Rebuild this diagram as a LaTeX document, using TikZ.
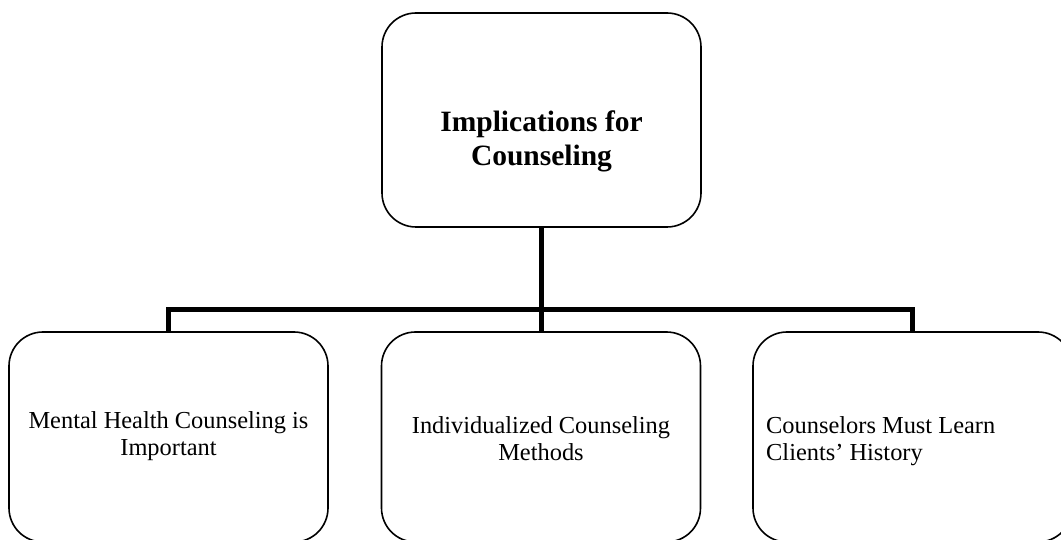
\documentclass[tikz,border=0pt]{standalone}
\usepackage{fontspec}
\setmainfont{Liberation Serif}
\begin{document}
\begin{tikzpicture}[x=1pt,y=-1pt,
  box/.style={draw=black, line width=1.6pt, rounded corners=34pt,
    minimum width=319pt, inner sep=0pt},
  topbox/.style={box, minimum height=214pt},
  leafbox/.style={box, minimum height=210pt},
  headtext/.style={align=center, inner sep=0pt,
    font=\fontsize{29.5}{34}\selectfont\bfseries},
  leaftext/.style={inner sep=0pt, font=\fontsize{24.4}{27}\selectfont},
  conn/.style={draw=black, line width=5pt, line join=miter}]
  \useasboundingbox (0,0) rectangle (1061,540);
  \clip (0,0) rectangle (1061,540);

  % boxes
  \node[topbox]  (top)   at (541.5,120) {};
  \node[leafbox] (left)  at (168.5,437) {};
  \node[leafbox] (mid)   at (541,437)   {};
  \node[leafbox] (right) at (912.5,437) {};

  % labels
  \node[headtext] (toptext) at (541.5,141) {Implications for\\Counseling};
  \node[leaftext, align=center] (lefttext) at (168.5,436)
    {Mental Health Counseling is\\Important};
  \node[leaftext, align=center] (midtext) at (541,438.5)
    {Individualized Counseling\\Methods};
  \node[leaftext, align=left, anchor=west] (righttext) at (766,441)
    {Counselors Must Learn\\Clients’ History};

  % tree connectors
  \coordinate (hub) at (541.5,310);
  \draw[conn] (top.south) -- (hub);
  \draw[conn] (left.north) -- (left.north |- hub) -- (right.north |- hub) -- (right.north);
  \draw[conn] (mid.north) -- (mid.north |- hub);
\end{tikzpicture}
\end{document}
